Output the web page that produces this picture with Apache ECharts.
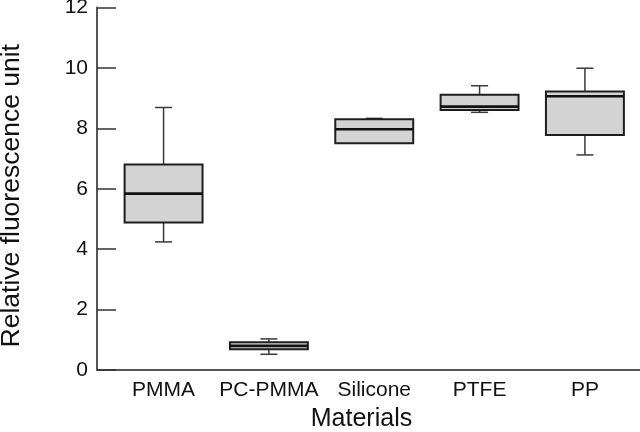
<!DOCTYPE html>
<html>
<head>
<meta charset="utf-8">
<script src="https://cdn.jsdelivr.net/npm/echarts@6/dist/echarts.min.js"></script>
<style>html,body{margin:0;padding:0;background:#fff}#c{width:640px;height:432px}</style>
</head>
<body>
<div id="c"></div>
<script>
var categories = ['PMMA', 'PC-PMMA', 'Silicone', 'PTFE', 'PP'];
var whiskerLow = [4.24, 0.52, 7.51, 8.53, 7.12];
var q1 = [4.88, 0.69, 7.51, 8.61, 7.78];
var median = [5.84, 0.80, 7.97, 8.72, 9.06];
var q3 = [6.80, 0.92, 8.30, 9.11, 9.22];
var whiskerHigh = [8.69, 1.03, 8.33, 9.41, 9.99];
var yTicks = [0, 2, 4, 6, 8, 10, 12];
var catPositions = [1, 2, 3, 4, 5];

var boxData = categories.map(function (c, i) {
  return [catPositions[i], whiskerLow[i], q1[i], median[i], q3[i], whiskerHigh[i]];
});

var chart = echarts.init(document.getElementById('c'));
var font = 'Liberation Sans, Arial, Helvetica, sans-serif';

function renderBox(params, api) {
  var x = api.value(0);
  var band = api.size([1, 0])[0];
  var bw = band * 0.74;
  var cap = 17;
  var pLow = api.coord([x, api.value(1)]);
  var pQ1 = api.coord([x, api.value(2)]);
  var pMed = api.coord([x, api.value(3)]);
  var pQ3 = api.coord([x, api.value(4)]);
  var pHigh = api.coord([x, api.value(5)]);
  var cx = pMed[0];
  var wStyle = { stroke: '#3a3a3a', lineWidth: 1.5, fill: null };
  var children = [];
  if (pHigh[1] < pQ3[1] - 0.5) {
    children.push({ type: 'line', shape: { x1: cx, y1: pQ3[1], x2: cx, y2: pHigh[1] }, style: wStyle });
    children.push({ type: 'line', shape: { x1: cx - cap / 2, y1: pHigh[1], x2: cx + cap / 2, y2: pHigh[1] }, style: wStyle });
  }
  if (pLow[1] > pQ1[1] + 0.5) {
    children.push({ type: 'line', shape: { x1: cx, y1: pQ1[1], x2: cx, y2: pLow[1] }, style: wStyle });
    children.push({ type: 'line', shape: { x1: cx - cap / 2, y1: pLow[1], x2: cx + cap / 2, y2: pLow[1] }, style: wStyle });
  }
  children.push({
    type: 'rect',
    shape: { x: cx - bw / 2, y: pQ3[1], width: bw, height: pQ1[1] - pQ3[1] },
    style: { fill: '#d3d3d3', stroke: '#1e1e1e', lineWidth: 2 }
  });
  children.push({
    type: 'line',
    shape: { x1: cx - bw / 2, y1: pMed[1], x2: cx + bw / 2, y2: pMed[1] },
    style: { stroke: '#111', lineWidth: 2.6 }
  });
  return { type: 'group', children: children };
}

chart.setOption({
  animation: false,
  backgroundColor: '#fff',
  grid: { left: 97, right: 0, top: 7.5, bottom: 62, containLabel: false, outerBoundsMode: 'none' },
  xAxis: {
    type: 'value',
    min: 0.368,
    max: 5.523,
    name: 'Materials',
    nameLocation: 'middle',
    nameGap: 37,
    nameMoveOverlap: false,
    nameTextStyle: { fontFamily: font, fontSize: 25, color: '#111', padding: [0, 14, 0, 0] },
    axisLine: { show: true, lineStyle: { color: '#555', width: 2 } },
    axisTick: { show: false },
    splitLine: { show: false },
    axisLabel: {
      margin: 10,
      fontFamily: font,
      fontSize: 21,
      color: '#111',
      customValues: catPositions,
      formatter: function (v) {
        var r = Math.round(v);
        if (r >= 1 && r <= categories.length) return categories[r - 1];
        return '';
      }
    }
  },
  yAxis: {
    type: 'value',
    min: yTicks[0],
    max: yTicks[yTicks.length - 1],
    interval: 2,
    name: 'Relative fluorescence unit',
    nameLocation: 'middle',
    nameGap: 72,
    nameMoveOverlap: false,
    nameTextStyle: { fontFamily: font, fontSize: 26.5, color: '#111', padding: [0, 14, 0, 0] },
    axisLine: { show: true, lineStyle: { color: '#555', width: 2 } },
    axisTick: { show: true, inside: true, length: 19, lineStyle: { color: '#333', width: 1.5 } },
    splitLine: { show: false },
    axisLabel: { margin: 9, fontFamily: font, fontSize: 21, color: '#111' }
  },
  series: [{
    type: 'custom',
    renderItem: renderBox,
    encode: { x: 0, y: [1, 2, 3, 4, 5] },
    data: boxData,
    clip: false
  }]
});
</script>
</body>
</html>
